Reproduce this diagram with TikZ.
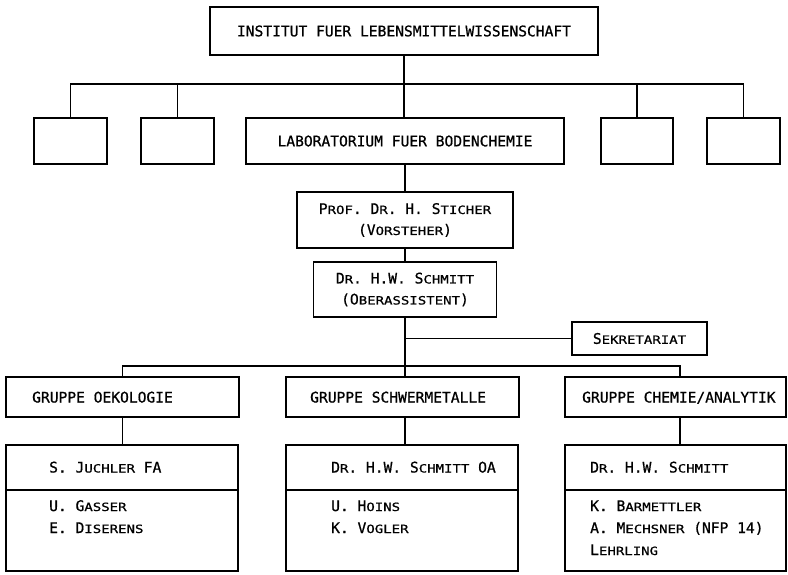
\documentclass[tikz,border=0pt]{standalone}
\usepackage{fontspec}
\newfontfamily\mfont[FakeBold=0.8]{DejaVu Sans Mono}
\newfontfamily\scfont[FakeStretch=1.23,FakeBold=0.8]{DejaVu Sans Mono}
\newcommand\sm[1]{{\scfont\fontsize{11.4}{21}\selectfont #1}}
\begin{document}
\begin{tikzpicture}[x=1pt,y=-1pt,
  box/.style={draw, line width=1.6pt, rectangle, inner sep=0pt},
  txt/.style={inner sep=0pt, font=\mfont\fontsize{14.6}{21}\selectfont},
  ln/.style={line width=1.6pt}]
\useasboundingbox (0,0) rectangle (788,574);
% top level
\node[box, minimum width=388pt, minimum height=48pt, txt, draw] (top) at (404,31) {INSTITUT FUER LEBENSMITTELWISSENSCHAFT};
\node[box, minimum width=73pt, minimum height=46pt] (b1) at (70.5,141) {};
\node[box, minimum width=73pt, minimum height=46pt] (b2) at (177.5,141) {};
\node[box, minimum width=318pt, minimum height=46pt, txt, draw] (labo) at (405,141) {LABORATORIUM FUER BODENCHEMIE};
\node[box, minimum width=72pt, minimum height=46pt] (b4) at (637,141) {};
\node[box, minimum width=73pt, minimum height=46pt] (b5) at (743.5,141) {};
\coordinate (bus1) at (405,84);
\draw[ln] (top.south) -- (top.south |- labo.north);
\draw[ln] (b1.north) -- (b1.north |- bus1) -- (b5.north |- bus1) -- (b5.north);
\draw[ln] (b2.north) -- (b2.north |- bus1);
\draw[ln] (b4.north) -- (b4.north |- bus1);
% leaders
\node[box, minimum width=216pt, minimum height=56pt, txt, draw, align=center] (prof) at (405,220) {P\sm{ROF}. D\sm{R}. H. S\sm{TICHER}\\(V\sm{ORSTEHER})};
\node[box, minimum width=183pt, minimum height=55pt, txt, draw, align=center] (schm) at (405,289.5) {D\sm{R}. H.W. S\sm{CHMITT}\\(O\sm{BERASSISTENT})};
\node[box, minimum width=135pt, minimum height=33pt, txt, draw] (sek) at (639.5,338.5) {S\sm{EKRETARIAT}};
\draw[ln] (prof.north |- labo.south) -- (prof.north);
\draw[ln] (prof.south) -- (schm.north);
% groups
\node[box, minimum width=233pt, minimum height=40pt] (g1) at (122.5,397) {};
\node[box, minimum width=233pt, minimum height=40pt] (g2) at (402.5,397) {};
\node[box, minimum width=221pt, minimum height=40pt] (g3) at (675.5,397) {};
\node[txt, anchor=base west] (g1t) at (32,402.5) {GRUPPE OEKOLOGIE};
\node[txt, anchor=base west] (g2t) at (310,402.5) {GRUPPE SCHWERMETALLE};
\node[txt, anchor=base west] (g3t) at (582,402.5) {GRUPPE CHEMIE/ANALYTIK};
\coordinate (bus2) at (405,366);
\coordinate (c3) at (680,0);
\draw[ln] (schm.south) -- (schm.south |- g2.north);
\draw[ln] (sek.west) -- (sek.west -| schm.south);
\draw[ln] (g1.north) -- (g1.north |- bus2) -- (c3 |- bus2) -- (c3 |- g3.north);
% lower boxes
\node[box, minimum width=232pt, minimum height=45pt] (l1h) at (122,467.5) {};
\node[box, minimum width=232pt, minimum height=81pt] (l1b) at (122,530.5) {};
\node[box, minimum width=232pt, minimum height=45pt] (l2h) at (402,467.5) {};
\node[box, minimum width=232pt, minimum height=81pt] (l2b) at (402,530.5) {};
\node[box, minimum width=221pt, minimum height=45pt] (l3h) at (675.5,467.5) {};
\node[box, minimum width=221pt, minimum height=81pt] (l3b) at (675.5,530.5) {};
\draw[ln] (g1.south -| g1.north) -- (l1h.north -| g1.north);
\draw[ln] (schm.south |- g2.south) -- (schm.south |- l2h.north);
\draw[ln] (c3 |- g3.south) -- (c3 |- l3h.north);
% texts
\node[txt, anchor=base west] (t1h) at (49,472.5) {S. J\sm{UCHLER} FA};
\node[txt, anchor=base west] (t1a) at (49,511) {U. G\sm{ASSER}};
\node[txt, anchor=base west] (t1b) at (49,533) {E. D\sm{ISERENS}};
\node[txt, anchor=base west] (t2h) at (331,472.5) {D\sm{R}. H.W. S\sm{CHMITT} OA};
\node[txt, anchor=base west] (t2a) at (331,511) {U. H\sm{OINS}};
\node[txt, anchor=base west] (t2b) at (331,533) {K. V\sm{OGLER}};
\node[txt, anchor=base west] (t3h) at (590,472.5) {D\sm{R}. H.W. S\sm{CHMITT}};
\node[txt, anchor=base west] (t3a) at (590,511) {K. B\sm{ARMETTLER}};
\node[txt, anchor=base west] (t3b) at (590,533) {A. M\sm{ECHSNER} (NFP 14)};
\node[txt, anchor=base west] (t3c) at (590,555) {L\sm{EHRLING}};
\end{tikzpicture}
\end{document}
